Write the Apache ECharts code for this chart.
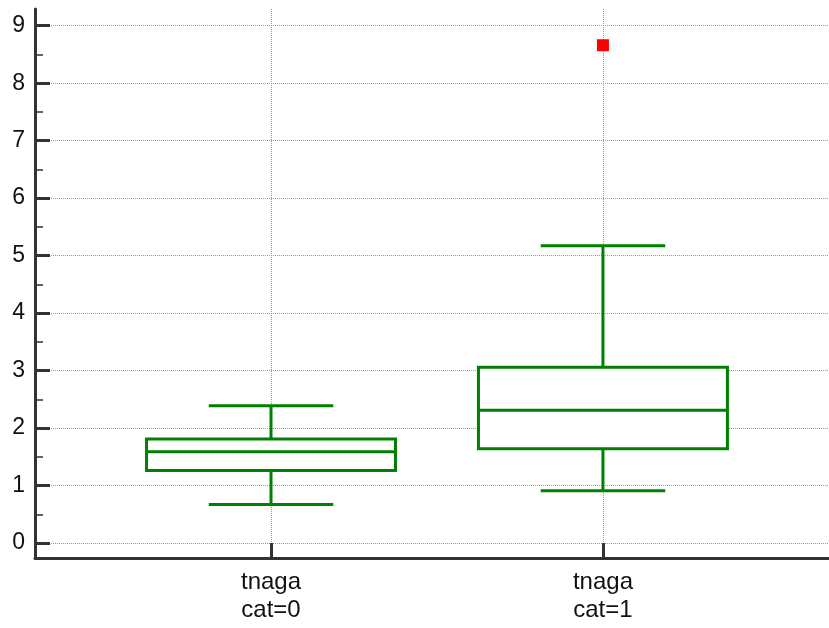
<!DOCTYPE html>
<html>
<head>
<meta charset="utf-8">
<script src="https://cdn.jsdelivr.net/npm/echarts@6/dist/echarts.min.js"></script>
<style>
  html, body { margin: 0; padding: 0; background: #fff; }
  #chart { width: 829px; height: 628px; }
</style>
</head>
<body>
<div id="chart"></div>
<script>
// categories and box statistics
const categories = ['tnaga\ncat=0', 'tnaga\ncat=1'];
const whiskerLow = [0.67, 0.91];
const q1 = [1.26, 1.64];
const median = [1.59, 2.31];
const q3 = [1.81, 3.06];
const whiskerHigh = [2.39, 5.17];
const outliers = [[1, 8.66]];
const yTicks = [0, 1, 2, 3, 4, 5, 6, 7, 8, 9];
const yMinorTicks = [0.5, 1.5, 2.5, 3.5, 4.5, 5.5, 6.5, 7.5, 8.5];
const xTicks = [0, 1];

const GREEN = '#008000';
const AXIS = '#333';

const boxRows = categories.map((c, i) => [i, whiskerLow[i], q1[i], median[i], q3[i], whiskerHigh[i]]);

const chart = echarts.init(document.getElementById('chart'));

chart.setOption({
    animation: false,
    grid: { left: 35, right: 0, top: 9, bottom: 70 },
    xAxis: {
        type: 'value',
        min: -0.711,
        max: 1.681,
        axisLine: { onZero: false, lineStyle: { color: AXIS, width: 3 } },
        axisTick: { customValues: xTicks, inside: true, length: 15, lineStyle: { color: AXIS, width: 3 } },
        axisLabel: {
            customValues: xTicks,
            formatter: v => categories[Math.round(v)],
            color: '#111',
            fontFamily: 'Liberation Sans',
            fontSize: 24,
            lineHeight: 28,
            margin: 10
        },
        splitLine: { show: true, lineStyle: { color: '#999', type: 'dotted', width: 1 } }
    },
    yAxis: [{
        type: 'value',
        min: -0.26,
        max: 9.29,
        axisLine: { show: true, onZero: false, lineStyle: { color: AXIS, width: 3 } },
        axisTick: { show: true, customValues: yTicks, inside: true, length: 15, lineStyle: { color: AXIS, width: 3 } },
        axisLabel: {
            customValues: yTicks,
            color: '#111',
            fontFamily: 'Liberation Sans',
            fontSize: 23,
            margin: 10
        },
        splitLine: { show: true, lineStyle: { color: '#999', type: 'dotted', width: 1 } }
    }, {
        type: 'value',
        position: 'left',
        min: -0.26,
        max: 9.29,
        axisLine: { show: false, onZero: false },
        axisTick: { show: true, customValues: yMinorTicks, inside: true, length: 8, lineStyle: { color: AXIS, width: 1.5 } },
        axisLabel: { show: false },
        splitLine: { show: false }
    }],
    series: [{
        type: 'custom',
        data: boxRows,
        z: 3,
        renderItem(params, api) {
            const x = api.value(0);
            const half = api.size([0.75, 0])[0] / 2;
            const capHalf = half / 2;
            const pLo = api.coord([x, api.value(1)]);
            const pQ1 = api.coord([x, api.value(2)]);
            const pMed = api.coord([x, api.value(3)]);
            const pQ3 = api.coord([x, api.value(4)]);
            const pHi = api.coord([x, api.value(5)]);
            const st = { stroke: GREEN, lineWidth: 3, fill: null };
            return {
                type: 'group',
                children: [
                    { type: 'line', shape: { x1: pHi[0], y1: pHi[1], x2: pQ3[0], y2: pQ3[1] }, style: st },
                    { type: 'line', shape: { x1: pLo[0], y1: pLo[1], x2: pQ1[0], y2: pQ1[1] }, style: st },
                    { type: 'line', shape: { x1: pHi[0] - capHalf, y1: pHi[1], x2: pHi[0] + capHalf, y2: pHi[1] }, style: st },
                    { type: 'line', shape: { x1: pLo[0] - capHalf, y1: pLo[1], x2: pLo[0] + capHalf, y2: pLo[1] }, style: st },
                    { type: 'rect', shape: { x: pQ3[0] - half, y: pQ3[1], width: half * 2, height: pQ1[1] - pQ3[1] },
                      style: { stroke: GREEN, lineWidth: 3, fill: '#fff' } },
                    { type: 'line', shape: { x1: pMed[0] - half, y1: pMed[1], x2: pMed[0] + half, y2: pMed[1] }, style: st }
                ]
            };
        }
    }, {
        type: 'scatter',
        data: outliers,
        symbol: 'rect',
        symbolSize: 12,
        itemStyle: { color: '#ff0000', opacity: 1 },
        z: 4
    }]
});
</script>
</body>
</html>
